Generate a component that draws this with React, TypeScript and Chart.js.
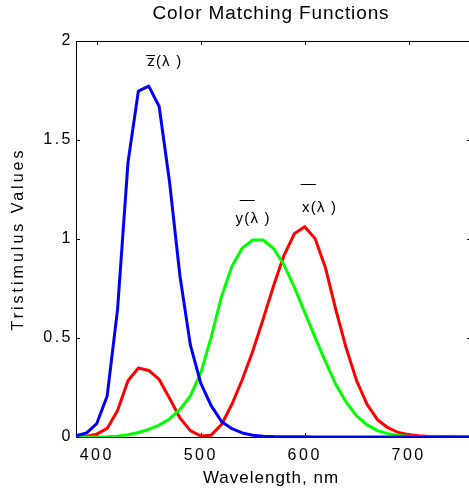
import { useEffect, useRef } from "react";
import { Chart, registerables } from "chart.js";

Chart.register(...registerables);

// CIE 1931 colour matching functions, sampled every 10 nm
const WAVELENGTHS = [
  380, 390, 400, 410, 420, 430, 440, 450, 460, 470, 480, 490, 500, 510, 520, 530, 540, 550, 560, 570,
  580, 590, 600, 610, 620, 630, 640, 650, 660, 670, 680, 690, 700, 710, 720, 730, 740, 750, 760,
];
const X_BAR = [
  0.0014, 0.0042, 0.0143, 0.0435, 0.1344, 0.2839, 0.3483, 0.3362, 0.2908, 0.1954, 0.0956, 0.032, 0.0049,
  0.0093, 0.0633, 0.1655, 0.2904, 0.4334, 0.5945, 0.7621, 0.9163, 1.0263, 1.0622, 1.0026, 0.8544, 0.6424,
  0.4479, 0.2835, 0.1649, 0.0874, 0.0468, 0.0227, 0.0114, 0.0058, 0.0029, 0.0014, 0.0007, 0.0003, 0.0002,
];
const Y_BAR = [
  0.0, 0.0001, 0.0004, 0.0012, 0.004, 0.0116, 0.023, 0.038, 0.06, 0.091, 0.139, 0.208, 0.323, 0.503, 0.71,
  0.862, 0.954, 0.995, 0.995, 0.952, 0.87, 0.757, 0.631, 0.503, 0.381, 0.265, 0.175, 0.107, 0.061, 0.032,
  0.017, 0.0082, 0.0041, 0.0021, 0.001, 0.0005, 0.0002, 0.0001, 0.0001,
];
const Z_BAR = [
  0.0065, 0.0201, 0.0679, 0.2074, 0.6456, 1.3856, 1.7471, 1.7721, 1.6692, 1.2876, 0.813, 0.4652, 0.272,
  0.1582, 0.0783, 0.0422, 0.0203, 0.0088, 0.0039, 0.0021, 0.0017, 0.0011, 0.0008, 0.0003, 0.0002, 0.0,
  0.0, 0.0, 0.0, 0.0, 0.0, 0.0, 0.0, 0.0, 0.0, 0.0, 0.0, 0.0, 0.0,
];

const X_TICKS = [400, 500, 600, 700];
const Y_TICKS = [0, 0.5, 1, 1.5, 2];

const TITLE = "Color Matching Functions";
const X_TITLE = "Wavelength, nm";
const Y_TITLE = "Tristimulus Values";

// Curve names, placed in data units: text anchor and the bar drawn over the letter
const CURVE_NAMES = [
  { text: "z(λ )", at: [448.5, 1.875], bar: [447.5, 456, 1.931] },
  { text: "y(λ )", at: [533.5, 1.079], bar: [537.5, 552, 1.197] },
  { text: "x(λ )", at: [597.5, 1.138], bar: [596, 611, 1.276] },
];

const FONT = '"Liberation Sans", Arial, Helvetica, sans-serif';
const CANVAS_W = 490;
const CANVAS_H = 497;
const PLOT_RIGHT = 471;
const TICK_LEN = 4;

const framePlugin = {
  id: "frame",
  beforeDraw(chart: any) {
    chart.ctx.letterSpacing = "2.5px";
  },
  beforeDatasetsDraw(chart: any) {
    const { ctx, chartArea, scales } = chart;
    const { left, right, top, bottom } = chartArea;
    const a = (v: number) => Math.round(v) + 0.5;
    ctx.save();
    ctx.strokeStyle = "#000";
    ctx.lineWidth = 1;
    ctx.beginPath();
    ctx.moveTo(a(left), a(top));
    ctx.lineTo(a(right), a(top));
    ctx.lineTo(a(right), a(bottom));
    for (const v of X_TICKS) {
      const px = a(scales.x.getPixelForValue(v));
      ctx.moveTo(px, bottom);
      ctx.lineTo(px, bottom - TICK_LEN);
      ctx.moveTo(px, top);
      ctx.lineTo(px, top + TICK_LEN);
    }
    for (const v of Y_TICKS) {
      const py = a(scales.y.getPixelForValue(v));
      ctx.moveTo(left, py);
      ctx.lineTo(left + TICK_LEN, py);
      ctx.moveTo(right, py);
      ctx.lineTo(right - TICK_LEN, py);
    }
    ctx.stroke();
    ctx.restore();
  },
  afterDraw(chart: any) {
    const { ctx, chartArea, scales } = chart;
    const { left, right, top, bottom } = chartArea;
    const cx = (left + right) / 2 - 2.5;
    ctx.save();
    ctx.fillStyle = "#000";
    ctx.textBaseline = "middle";
    ctx.textAlign = "center";

    ctx.font = `19px ${FONT}`;
    ctx.letterSpacing = "0.9px";
    ctx.fillText(TITLE, cx, top - 27);

    ctx.font = `17px ${FONT}`;
    ctx.letterSpacing = "1px";
    ctx.fillText(X_TITLE, cx, bottom + 41);

    ctx.save();
    ctx.translate(left - 57, (top + bottom) / 2);
    ctx.rotate(-Math.PI / 2);
    ctx.font = `16px ${FONT}`;
    ctx.letterSpacing = "3px";
    ctx.fillText(Y_TITLE, 0, 0);
    ctx.restore();

    ctx.font = `15px ${FONT}`;
    ctx.letterSpacing = "1.2px";
    ctx.textAlign = "left";
    ctx.textBaseline = "alphabetic";
    ctx.lineWidth = 1;
    ctx.strokeStyle = "#000";
    for (const n of CURVE_NAMES) {
      ctx.fillText(n.text, scales.x.getPixelForValue(n.at[0]), scales.y.getPixelForValue(n.at[1]));
      const by = Math.round(scales.y.getPixelForValue(n.bar[2])) + 0.5;
      ctx.beginPath();
      ctx.moveTo(scales.x.getPixelForValue(n.bar[0]), by);
      ctx.lineTo(scales.x.getPixelForValue(n.bar[1]), by);
      ctx.stroke();
    }
    ctx.restore();
    ctx.letterSpacing = "0px";
  },
};

export default function App() {
  const canvasRef = useRef<HTMLCanvasElement>(null);

  useEffect(() => {
    const canvas = canvasRef.current;
    if (!canvas) return;
    const series = (vals: number[]) => WAVELENGTHS.map((w, i) => ({ x: w, y: vals[i] }));
    const chart = new Chart(canvas, {
      type: "line",
      data: {
        datasets: [
          { label: "x", data: series(X_BAR), borderColor: "#ff0000", order: 2 },
          { label: "y", data: series(Y_BAR), borderColor: "#00ff00", order: 1 },
          { label: "z", data: series(Z_BAR), borderColor: "#0000ff", order: 0 },
        ],
      },
      options: {
        responsive: false,
        animation: false,
        devicePixelRatio: 1,
        events: [],
        layout: { padding: { top: 41, right: CANVAS_W - PLOT_RIGHT, bottom: 0, left: 0 } },
        elements: {
          point: { radius: 0 },
          line: { borderWidth: 3, tension: 0, borderJoinStyle: "round", fill: false },
        },
        plugins: { legend: { display: false }, tooltip: { enabled: false }, title: { display: false } },
        scales: {
          x: {
            type: "linear",
            min: 380,
            max: 760,
            afterBuildTicks: (s: any) => {
              s.ticks = X_TICKS.map((v) => ({ value: v }));
            },
            afterFit: (s: any) => {
              s.height = CANVAS_H - 437;
            },
            grid: { display: false, drawTicks: false },
            border: { display: true, color: "#000", width: 1 },
            ticks: {
              font: { family: FONT, size: 16 },
              color: "#000",
              padding: 9.4,
              maxRotation: 0,
              autoSkip: false,
              callback: (v: any) => String(v),
            },
          },
          y: {
            type: "linear",
            min: 0,
            max: 2,
            afterBuildTicks: (s: any) => {
              s.ticks = Y_TICKS.map((v) => ({ value: v }));
            },
            afterFit: (s: any) => {
              s.width = 76;
            },
            grid: { display: false, drawTicks: false },
            border: { display: true, color: "#000", width: 1 },
            ticks: {
              font: { family: FONT, size: 16 },
              color: "#000",
              padding: 3,
              autoSkip: false,
              callback: (v: any) => String(v),
            },
          },
        },
      },
      plugins: [framePlugin],
    });
    return () => chart.destroy();
  }, []);

  return (
    <div
      style={{
        position: "fixed",
        left: 0,
        top: 0,
        width: 469,
        height: 497,
        overflow: "hidden",
        background: "#fff",
      }}
    >
      <canvas
        ref={canvasRef}
        width={CANVAS_W}
        height={CANVAS_H}
        style={{ display: "block", width: CANVAS_W, height: CANVAS_H }}
      />
    </div>
  );
}
